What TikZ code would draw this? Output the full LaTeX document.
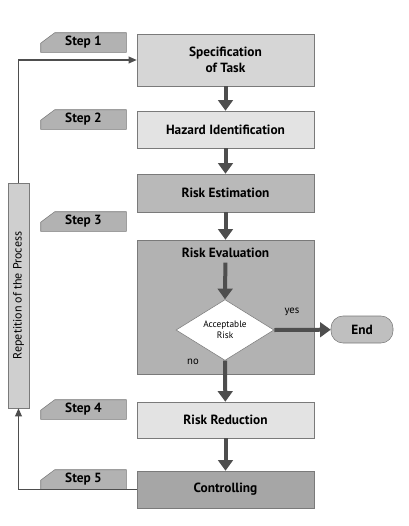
\documentclass[tikz,border=0pt]{standalone}
\usepackage{fontspec}
\setmainfont{PT Sans}
\usepackage{tikz}
\usetikzlibrary{positioning,arrows.meta,shapes.geometric,backgrounds}

\definecolor{edgegray}{HTML}{7A7A7A}
\definecolor{arrowgray}{HTML}{4E4E4E}

\begin{document}
\begin{tikzpicture}[
  x=0.75pt, y=-0.75pt,
  box/.style={draw=edgegray, rectangle, align=center, font=\bfseries, inner sep=2pt, minimum width=132.75pt},
  steptag/.style={rectangle, minimum width=63.75pt, minimum height=14.25pt, inner sep=0pt, font=\bfseries},
  tagline/.style={draw=edgegray, fill=gray!60},
  flow/.style={draw=arrowgray, line width=3pt, -{Triangle[length=8pt,width=11pt]}},
  back/.style={draw=arrowgray, line width=1pt, -{Triangle[length=6pt,width=5pt]}}
]
\useasboundingbox (0,0) rectangle (408,526);
% main column
\node[box, fill=gray!32, minimum height=39pt] (spec) at (225.5,60) {Specification\\of Task};
\node[box, fill=gray!22, minimum height=27.75pt] (haz) at (225.5,129.5) {Hazard Identification};
\node[box, fill=gray!55, minimum height=28.5pt] (est) at (225.5,193) {Risk Estimation};
\node[box, fill=gray!60, minimum height=100.5pt] (eval) at (225.5,307) {};
\node[font=\bfseries] (evaltxt) at (225.5,253) {Risk Evaluation};
\node[draw=edgegray, fill=white, diamond, minimum width=73.5pt, minimum height=43.5pt, inner sep=0pt,
  align=center, font=\scriptsize] (acc) at (225,330) {Acceptable\\Risk};
\node[draw=edgegray, fill=gray!50, rounded corners=9pt, minimum width=46.5pt, minimum height=20.25pt,
  font=\bfseries] (end) at (362,329.5) {End};
\node[box, fill=gray!22, minimum height=27pt] (red) at (225.5,420) {Risk Reduction};
\node[box, fill=gray!70, minimum height=27.75pt] (ctrl) at (225.5,489.5) {Controlling};
\node[font=\footnotesize] (yes) at (292,312) {yes};
\node[font=\footnotesize] (no) at (193,362) {no};
% steps
\node[steptag] (s1) at (83.5,42.5) {Step 1};
\node[steptag] (s2) at (83.5,119.5) {Step 2};
\node[steptag] (s3) at (83.5,221.5) {Step 3};
\node[steptag] (s4) at (83.5,409.5) {Step 4};
\node[steptag] (s5) at (83.5,479.5) {Step 5};
\begin{scope}[on background layer]
\foreach \s in {s1,s2,s3,s4,s5}
  \draw[tagline] (\s.south west) -- ([yshift=-0.5pt]\s.west) -- ([xshift=10.5pt]\s.north west)
    -- (\s.north east) -- (\s.south east) -- cycle;
\end{scope}
% repetition bar
\node[draw=edgegray, fill=gray!38, rotate=90, minimum width=168.75pt, minimum height=15.75pt, inner sep=0pt,
  font=\small] (rep) at (18.5,295.5) {Repetition of the Process};
% arrows
\draw[flow] (spec) -- (haz);
\draw[flow] (haz) -- (est);
\draw[flow] (est) -- (eval.north);
\draw[flow] (evaltxt) -- (acc.north);
\draw[flow] (acc.south) -- (red);
\draw[flow] (acc.east) -- (end);
\draw[flow] (red) -- (ctrl);
\draw[back] (ctrl.west) -| (rep.west);
\draw[back] (rep.east) |- (spec.west);
\end{tikzpicture}
\end{document}
